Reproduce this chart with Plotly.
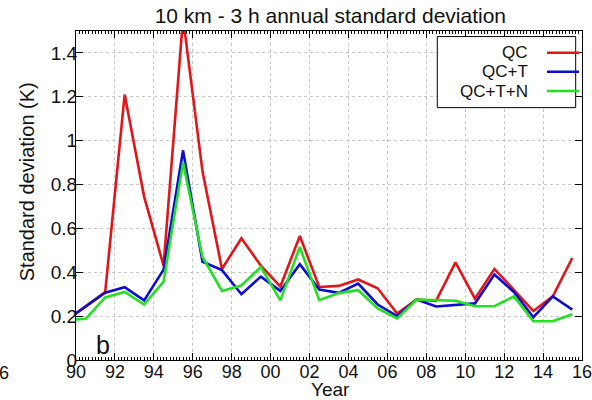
import plotly.graph_objects as go

years = [1989.5 + i for i in range(27)]
qc = [0.18, 0.245, 0.31, 1.21, 0.745, 0.43, 1.56, 0.86, 0.415, 0.555, 0.43, 0.335, 0.565,
      0.333, 0.338, 0.367, 0.327, 0.212, 0.276, 0.27, 0.445, 0.28, 0.415, 0.32, 0.223, 0.29, 0.465]
qc_t = [0.181, 0.244, 0.307, 0.332, 0.272, 0.412, 0.955, 0.448, 0.41, 0.30, 0.38, 0.315, 0.437,
        0.321, 0.306, 0.348, 0.253, 0.20, 0.276, 0.244, 0.252, 0.258, 0.39, 0.31, 0.195, 0.29, 0.23]
qc_t_n = [0.182, 0.188, 0.285, 0.31, 0.253, 0.357, 0.90, 0.47, 0.315, 0.34, 0.424, 0.272, 0.515,
          0.273, 0.305, 0.318, 0.235, 0.19, 0.276, 0.273, 0.27, 0.245, 0.245, 0.29, 0.177, 0.177, 0.209]

series_names = ["QC", "QC+T", "QC+T+N"]
colors = ["#e0161b", "#0c0cd2", "#22e022"]
tick_years = list(range(1990, 2017, 2))
tick_text = ["90", "92", "94", "96", "98", "00", "02", "04", "06", "08", "10", "12", "14", "16"]
y_ticks = [0, 0.2, 0.4, 0.6, 0.8, 1, 1.2, 1.4]
y_text = ["0", "0.2", "0.4", "0.6", "0.8", "1", "1.2", "1.4"]

FONT = "Liberation Sans, Arial, sans-serif"

fig = go.Figure()
for name, ys, c in zip(series_names, [qc, qc_t, qc_t_n], colors):
    fig.add_trace(go.Scatter(x=years, y=ys, mode="lines", name=name,
                             line=dict(color=c, width=2.6), showlegend=False))

fig.update_layout(
    width=592, height=400,
    margin=dict(l=76, r=10, t=31, b=40),
    paper_bgcolor="white", plot_bgcolor="white",
    font=dict(family=FONT, color="#111111", size=18),
    title=dict(text="10 km - 3 h annual standard deviation", x=0.558, xanchor="center",
               y=0.962, yanchor="middle", font=dict(size=21, family=FONT)),
)
fig.update_xaxes(
    range=[1990, 2016], tickmode="array", tickvals=tick_years, ticktext=tick_text,
    showline=True, linecolor="black", linewidth=1.2, mirror="allticks",
    ticks="inside", ticklen=7, tickcolor="black", ticklabeloverflow="allow",
    ticklabelstandoff=-5,
    showgrid=True, gridcolor="#c8c8c8", griddash="dot", gridwidth=1,
    zeroline=False, tickfont=dict(size=18), automargin=False,
    minor=dict(ticks="inside", ticklen=3, dtick=1/6, tick0=1990, tickcolor="black", showgrid=False),
)
fig.update_yaxes(
    range=[0, 1.5], tickmode="array", tickvals=y_ticks, ticktext=y_text,
    showline=True, linecolor="black", linewidth=1.2, mirror="allticks",
    ticks="inside", ticklen=7, tickcolor="black", ticklabelstandoff=-6,
    showgrid=True, gridcolor="#c8c8c8", griddash="dot", gridwidth=1,
    zeroline=False, tickfont=dict(size=19), automargin=False,
)

# axis titles
fig.add_annotation(text="Year", xref="paper", yref="paper", x=0.502, y=-0.091, xanchor="center",
                   yanchor="middle", showarrow=False, font=dict(size=19, family=FONT))
fig.add_annotation(text="Standard deviation (K)", xref="paper", yref="paper", x=-0.097, y=0.543,
                   xanchor="center", yanchor="middle", textangle=-90, showarrow=False,
                   font=dict(size=20, family=FONT))

# legend box (gnuplot style: text then line sample)
fig.add_shape(type="rect", xref="paper", yref="paper", x0=0.714, x1=0.9875, y0=0.767, y1=0.983,
              line=dict(color="black", width=1), fillcolor="white", layer="above")
rows_y = [0.934, 0.876, 0.8176]
for name, c, yy in zip(series_names, colors, rows_y):
    fig.add_annotation(text=name, xref="paper", yref="paper", x=0.898, y=yy, xanchor="right",
                       yanchor="middle", showarrow=False, font=dict(size=17, family=FONT))
    fig.add_shape(type="line", xref="paper", yref="paper", x0=0.9308, x1=0.9941, y0=yy, y1=yy,
                  line=dict(color=c, width=2.6), layer="above")

fig.add_annotation(text="b", xref="paper", yref="paper", x=0.053, y=0.046, xanchor="center",
                   yanchor="middle", showarrow=False, font=dict(size=25, family=FONT))
fig.add_annotation(text="6", xref="paper", yref="paper", x=-0.143, y=-0.04, xanchor="center",
                   yanchor="middle", showarrow=False, font=dict(size=18, family=FONT))

fig.write_html("out.html")
